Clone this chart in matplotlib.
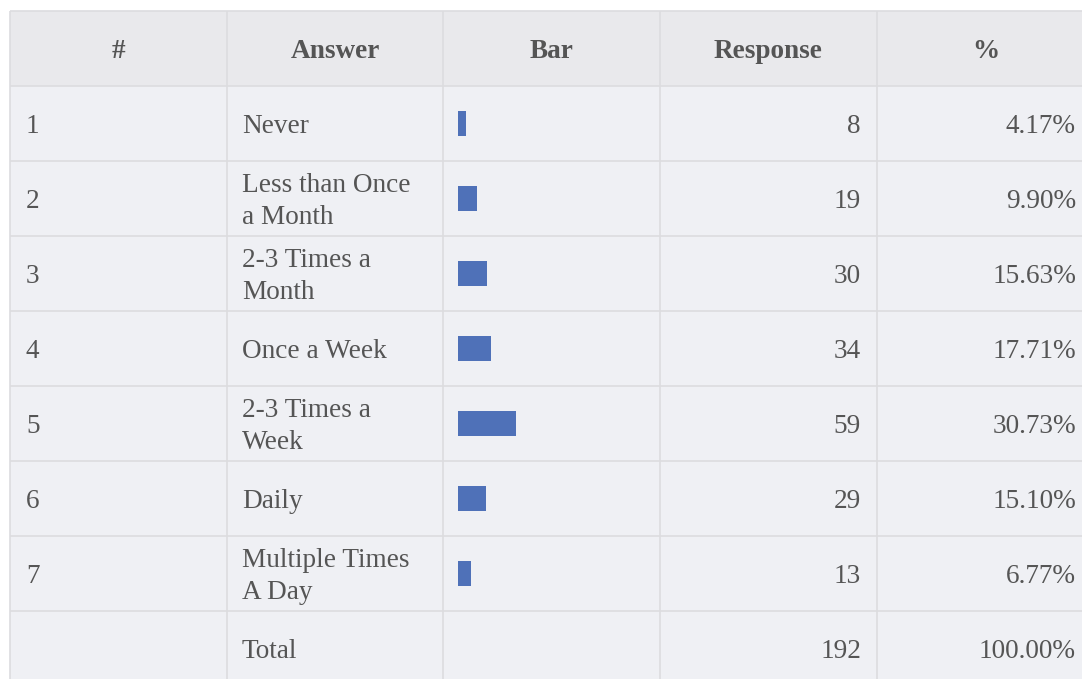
import numpy as np
import matplotlib.pyplot as plt
from matplotlib.patches import Rectangle

plt.rcParams['font.family'] = ['Liberation Serif', 'DejaVu Serif']

# 表格数据
headers = ['#', 'Answer', 'Bar', 'Response', '%']
row_ids = ['1', '2', '3', '4', '5', '6', '7', '']
answers = ['Never', 'Less than Once\na Month', '2-3 Times a\nMonth', 'Once a Week',
           '2-3 Times a\nWeek', 'Daily', 'Multiple Times\nA Day', 'Total']
responses = [8, 19, 30, 34, 59, 29, 13]
total = 192
percents = ['4.17%', '9.90%', '15.63%', '17.71%', '30.73%', '15.10%', '6.77%', '100.00%']

W, H = 1082, 679
col_x = [10, 227, 443, 660, 877, 1094]
top = 11
header_h = 75
row_h = 75

text_color = '#555555'
line_color = '#dcdcdf'
body_bg = '#eff0f4'
head_bg = '#e9e9ec'
bar_color = '#4f71b8'
fs = 19.6
dy = 3  # 文字基线偏移

fig = plt.figure(figsize=(W / 100, H / 100), dpi=100)
ax = fig.add_axes([0, 0, 1, 1])
ax.set_xlim(0, W)
ax.set_ylim(H, 0)
ax.axis('off')

n_rows = len(answers)
# 背景
ax.add_patch(Rectangle((col_x[0], top), col_x[-1] - col_x[0], header_h,
                       facecolor=head_bg, edgecolor='none', zorder=0))
ax.add_patch(Rectangle((col_x[0], top + header_h), col_x[-1] - col_x[0], row_h * n_rows,
                       facecolor=body_bg, edgecolor='none', zorder=0))

# 网格线
y_lines = [top + header_h + i * row_h for i in range(n_rows + 1)]
ax.hlines([top] + y_lines, col_x[0], col_x[-1], color=line_color, lw=1.2, zorder=1)
ax.vlines(col_x, top, top + header_h + row_h * n_rows, color=line_color, lw=1.2, zorder=1)

# 表头
head_y = top + header_h / 2 + dy
for i, h in enumerate(headers):
    cx = (col_x[i] + col_x[i + 1]) / 2
    ax.text(cx, head_y, h, ha='center', va='center', fontsize=fs,
            fontweight='bold', color=text_color)

# 行
centers = np.array([top + header_h + (i + 0.5) * row_h for i in range(n_rows)])
resp_labels = [str(r) for r in responses] + [str(total)]
for i in range(n_rows):
    cy = centers[i] + dy
    ax.text(col_x[0] + 16, cy, row_ids[i], ha='left', va='center', fontsize=fs,
            color=text_color)
    ax.text(col_x[1] + 15, cy, answers[i], ha='left', va='center', fontsize=fs,
            color=text_color, linespacing=1.4)
    ax.text(col_x[4] - 16, cy, resp_labels[i], ha='right', va='center', fontsize=fs,
            color=text_color)
    ax.text(col_x[5] - 18, cy, percents[i], ha='right', va='center', fontsize=fs,
            color=text_color)

# 条形
scale = 0.98
ax.barh(centers[:len(responses)], np.array(responses) * scale, left=col_x[2] + 15,
        height=25, color=bar_color, zorder=2)

fig.savefig('out.png', dpi=100)
